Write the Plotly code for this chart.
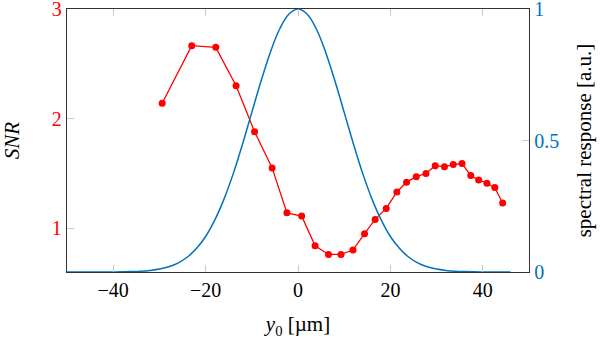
import plotly.graph_objects as go

# SNR data (red, left axis)
snr_x = [-29.4, -23.0, -17.8, -13.4, -9.4, -5.6, -2.4, 0.8, 3.7, 6.6, 9.3, 11.9,
         14.4, 16.7, 19.1, 21.4, 23.5, 25.6, 27.7, 29.7, 31.7, 33.6, 35.5, 37.4,
         39.1, 40.9, 42.6, 44.3]
snr_y = [2.14, 2.665, 2.65, 2.30, 1.88, 1.55, 1.14, 1.11, 0.84, 0.76, 0.76, 0.80,
         0.95, 1.08, 1.18, 1.33, 1.42, 1.47, 1.50, 1.57, 1.56, 1.58, 1.59, 1.48,
         1.44, 1.41, 1.37, 1.23]

# Spectral response (blue, right axis)
resp_x = [-50, -48, -46, -44, -42, -40, -38, -36, -34, -32, -30, -28, -26, -24, -22,
          -20, -18, -16, -14, -12, -10, -8, -6, -4, -2, 0, 2, 4, 6, 8, 10, 12, 14, 16,
          18, 20, 22, 24, 26, 28, 30, 32, 34, 36, 38, 40, 42, 44, 46]
resp_y = [0.0, 0.0, 0.0, 0.0001, 0.0001, 0.0003, 0.0007, 0.0015, 0.003, 0.006, 0.011,
          0.020, 0.034, 0.056, 0.089, 0.135, 0.198, 0.278, 0.375, 0.487, 0.607, 0.726,
          0.835, 0.923, 0.980, 1.0, 0.980, 0.923, 0.835, 0.726, 0.607, 0.487, 0.375,
          0.278, 0.198, 0.135, 0.089, 0.056, 0.034, 0.020, 0.011, 0.006, 0.003, 0.0015,
          0.0007, 0.0003, 0.0001, 0.0001, 0.0]

x_ticks = [-40, -20, 0, 20, 40]
y_ticks = [1, 2, 3]
y2_ticks = [0, 0.5, 1]
y2_labels = ["0", "0.5", "1"]

RED = "#ff0000"
BLUE = "#0072bd"
FONT = "Liberation Serif, DejaVu Serif, serif"

fig = go.Figure()
fig.add_trace(go.Scatter(x=resp_x, y=resp_y, mode="lines", yaxis="y2",
                         line=dict(color=BLUE, width=1.5, shape="spline"),
                         showlegend=False))
fig.add_trace(go.Scatter(x=snr_x, y=snr_y, mode="lines+markers",
                         line=dict(color=RED, width=1.3),
                         marker=dict(color=RED, size=7),
                         showlegend=False))

axis_common = dict(showgrid=False, zeroline=False, showline=True, linecolor="#333333",
                   linewidth=1.3, ticks="inside", ticklen=7, tickcolor="#c8c8c8",
                   tickwidth=1, ticklabeloverflow="allow", automargin=False)

fig.update_layout(
    width=608, height=343,
    margin=dict(l=67, r=79, t=9, b=71),
    paper_bgcolor="white", plot_bgcolor="white",
    font=dict(family=FONT, size=20, color="black"),
    xaxis=dict(range=[-50, 50], tickvals=x_ticks, mirror="ticks",
               tickfont=dict(family=FONT, size=20, color="black"),
               title=dict(text="<i>y</i><sub>0</sub> [µm]", standoff=16,
                          font=dict(family=FONT, size=21)),
               **axis_common),
    yaxis=dict(range=[0.6, 3], tickvals=y_ticks,
               tickfont=dict(family=FONT, size=20, color=RED),
               title=dict(text="<i>SNR</i>", standoff=32,
                          font=dict(family=FONT, size=21)),
               **axis_common),
    yaxis2=dict(range=[0, 1], tickvals=y2_ticks, ticktext=y2_labels,
                overlaying="y", side="right",
                tickfont=dict(family=FONT, size=20, color=BLUE),
                title=dict(text="spectral response [a.u.]", standoff=18,
                           font=dict(family=FONT, size=21)),
                **axis_common),
)

fig.write_html("out.html")
